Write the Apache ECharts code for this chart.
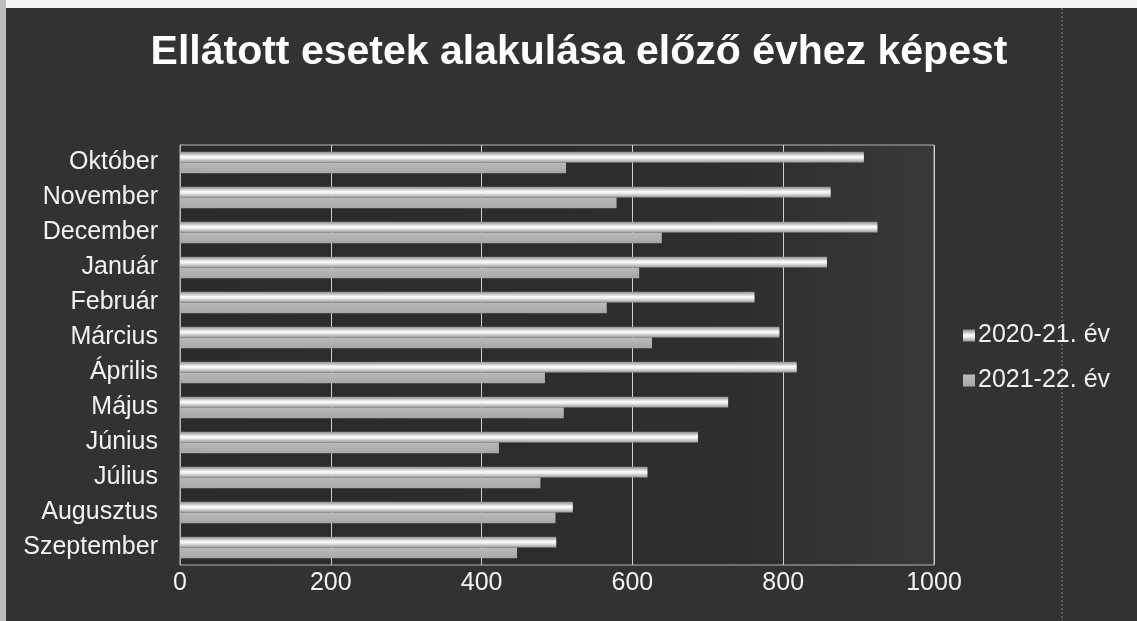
<!DOCTYPE html>
<html>
<head>
<meta charset="utf-8">
<script src="https://cdn.jsdelivr.net/npm/echarts@6/dist/echarts.min.js"></script>
<style>
  html, body { margin: 0; padding: 0; background: #323232; }
  #chart { width: 1137px; height: 621px; }
</style>
</head>
<body>
<div id="chart"></div>
<script>
// honapok (felulrol lefele)
var months = ["Október", "November", "December", "Január", "Február", "Március",
  "Április", "Május", "Június", "Július", "Augusztus", "Szeptember"];
var seriesNames = ["2020-21. év", "2021-22. év"];
var cases2021 = [907, 863, 925, 858, 762, 795, 818, 727, 687, 620, 521, 499];
var cases2122 = [512, 579, 639, 609, 566, 626, 484, 509, 423, 478, 498, 447];
var xTicks = [0, 200, 400, 600, 800, 1000];

var font = "Liberation Sans, Arial, sans-serif";
var chart = echarts.init(document.getElementById("chart"));

chart.setOption({
  backgroundColor: "#323232",
  animation: false,
  title: {
    text: "Ellátott esetek alakulása előző évhez képest",
    top: 27,
    left: 574,
    textAlign: "center",
    textStyle: { color: "#ffffff", fontSize: 41, fontWeight: "bold", fontFamily: font }
  },
  legend: {
    orient: "vertical",
    left: 958,
    top: 318,
    itemWidth: 12,
    itemHeight: 12,
    itemGap: 20,
    icon: "rect",
    data: seriesNames,
    textStyle: { color: "#f0f0f0", fontSize: 25, fontFamily: font, padding: [0, 0, 0, -2] }
  },
  grid: {
    left: 180,
    right: 203,
    top: 145,
    bottom: 56,
    show: true,
    borderColor: "#b5b5b5",
    borderWidth: 1,
    backgroundColor: new echarts.graphic.LinearGradient(0, 0, 1, 0, [
      { offset: 0, color: "#2b2b2b" },
      { offset: 0.75, color: "#2e2e2e" },
      { offset: 1, color: "#393939" }
    ])
  },
  xAxis: {
    type: "value",
    min: xTicks[0],
    max: xTicks[xTicks.length - 1],
    interval: 200,
    axisLine: { show: false },
    axisTick: { show: false },
    axisLabel: {
      color: "#f2f2f2", fontSize: 25, fontFamily: font, margin: 6,
      formatter: function (v) { return String(v); }
    },
    splitLine: { lineStyle: { color: "#cfcfcf", width: 1 } }
  },
  yAxis: {
    type: "category",
    inverse: true,
    data: months,
    axisLine: { show: true, lineStyle: { color: "#b5b5b5" } },
    axisTick: { show: false },
    axisLabel: { color: "#f2f2f2", fontSize: 25, fontFamily: font, margin: 22 }
  },
  series: [
    {
      name: seriesNames[0],
      type: "bar",
      data: cases2021,
      barGap: "0%",
      barCategoryGap: "38%",
      itemStyle: {
        color: new echarts.graphic.LinearGradient(0, 0, 0, 1, [
          { offset: 0, color: "#8a8a8a" },
          { offset: 0.45, color: "#fbfbfb" },
          { offset: 0.6, color: "#f0f0f0" },
          { offset: 1, color: "#9a9a9a" }
        ])
      }
    },
    {
      name: seriesNames[1],
      type: "bar",
      data: cases2122,
      itemStyle: {
        color: new echarts.graphic.LinearGradient(0, 0, 0, 1, [
          { offset: 0, color: "#bababa" },
          { offset: 1, color: "#a6a6a6" }
        ])
      }
    }
  ],
  graphic: [
    { type: "rect", left: 0, top: 0, shape: { width: 1137, height: 8 }, style: { fill: "#f4f4f4" } },
    { type: "rect", left: 0, top: 0, shape: { width: 6, height: 621 }, style: { fill: "#bdbdbd" } },
    { type: "line", shape: { x1: 1062, y1: 8, x2: 1062, y2: 621 }, style: { stroke: "#5a5a5a", lineWidth: 2, lineDash: [2, 2] } }
  ]
});
</script>
</body>
</html>
